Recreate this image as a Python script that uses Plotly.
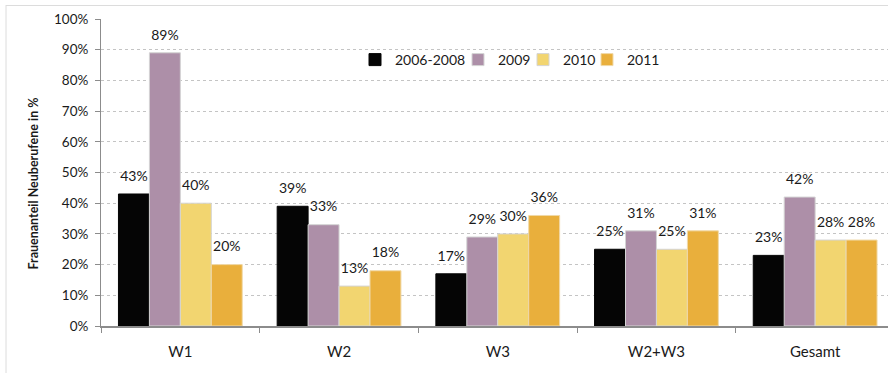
import plotly.graph_objects as go

# Categories and series (share of women among new appointments)
categories = ["W1", "W2", "W3", "W2+W3", "Gesamt"]
series_names = ["2006-2008", "2009", "2010", "2011"]
values_2006_2008 = [0.43, 0.39, 0.17, 0.25, 0.23]
values_2009 = [0.89, 0.33, 0.29, 0.31, 0.42]
values_2010 = [0.40, 0.13, 0.30, 0.25, 0.28]
values_2011 = [0.20, 0.18, 0.36, 0.31, 0.28]
y_ticks = [0, 0.1, 0.2, 0.3, 0.4, 0.5, 0.6, 0.7, 0.8, 0.9, 1.0]

series_values = [values_2006_2008, values_2009, values_2010, values_2011]
colors = ["#050505", "#ad8fa8", "#f2d570", "#e9af3c"]
outline = ["#050505", "#d4d4d4", "#d4d4d4", "#f0d9a8"]

FONT = "Lato"
W, H = 888, 373
ML, MR, MT, MB = 101, 0, 19, 47
PW, PH = W - ML - MR, H - MT - MB

# left edge (px) of each legend entry
legend_left_px = [355, 458, 523, 587]
legend_ids = ["legend", "legend2", "legend3", "legend4"]

fig = go.Figure()
for i, (name, vals, col, oc) in enumerate(zip(series_names, series_values, colors, outline)):
    fig.add_trace(go.Bar(
        x=categories, y=vals, name=name, offsetgroup=f"g{i}",
        marker=dict(color=col, line=dict(color=oc, width=1)),
        legend=legend_ids[i],
    ))
# value labels placed over the matching bars
for i, (name, vals) in enumerate(zip(series_names, series_values)):
    fig.add_trace(go.Scatter(
        x=categories, y=vals, mode="markers+text", offsetgroup=f"g{i}",
        text=[f"{v:.0%}" for v in vals], textposition="top center",
        marker=dict(size=14, color="rgba(0,0,0,0)"),
        textfont=dict(family=FONT, size=14, color="#1a1a1a"),
        cliponaxis=False, showlegend=False, hoverinfo="skip",
    ))

legend_style = dict(
    orientation="h", xanchor="left", yanchor="top",
    y=(H - MB - 44) / PH,
    bgcolor="rgba(0,0,0,0)", font=dict(family=FONT, size=14, color="#1a1a1a"),
    itemwidth=30,
)
legends = {lid: dict(legend_style, x=(px - ML) / PW)
           for lid, px in zip(legend_ids, legend_left_px)}

fig.update_layout(
    width=W, height=H,
    margin=dict(l=ML, r=MR, t=MT, b=MB, pad=0),
    paper_bgcolor="white", plot_bgcolor="white",
    barmode="group", bargap=0.22, bargroupgap=0,
    scattermode="group", scattergap=0.22,
    font=dict(family=FONT, size=14, color="#1a1a1a"),
    showlegend=True,
    **legends,
    xaxis=dict(
        range=[-0.5, 4.5 - (894.5 - 888) / 158.7],
        showline=True, linecolor="#8c8c8c", linewidth=2,
        ticks="outside", tickson="boundaries", ticklen=5, tickcolor="#8c8c8c",
        tickfont=dict(family=FONT, size=15, color="#1a1a1a"),
        ticklabelstandoff=11, showgrid=False, zeroline=False,
    ),
    yaxis=dict(
        range=[0, 1], tickvals=y_ticks, tickformat=".0%",
        showline=True, linecolor="#8c8c8c", linewidth=1,
        ticks="outside", ticklen=5, tickcolor="#8c8c8c",
        tickfont=dict(family=FONT, size=13.5, color="#1a1a1a"),
        showgrid=True, gridcolor="#c4c4c4", gridwidth=1, griddash="dot",
        zeroline=False, ticklabelstandoff=4,
    ),
    annotations=[dict(
        text="<b>Frauenanteil Neuberufene in %</b>",
        xref="paper", yref="paper",
        x=(33 - ML) / PW, y=(H - MB - 183.5) / PH,
        xanchor="center", yanchor="middle", textangle=-90, showarrow=False,
        font=dict(family=FONT, size=12.5, color="#1a1a1a"),
    )],
    shapes=[
        # thin frame around the chart area
        dict(type="line", xref="paper", yref="paper",
             x0=(6 - ML) / PW, x1=(6 - ML) / PW,
             y0=(H - MB - 5) / PH, y1=(H - MB - H) / PH,
             line=dict(color="#dcdcdc", width=1)),
        dict(type="line", xref="paper", yref="paper",
             x0=(6 - ML) / PW, x1=1.0,
             y0=(H - MB - 5.5) / PH, y1=(H - MB - 5.5) / PH,
             line=dict(color="#dcdcdc", width=1)),
    ],
)

fig.write_html("out.html")
